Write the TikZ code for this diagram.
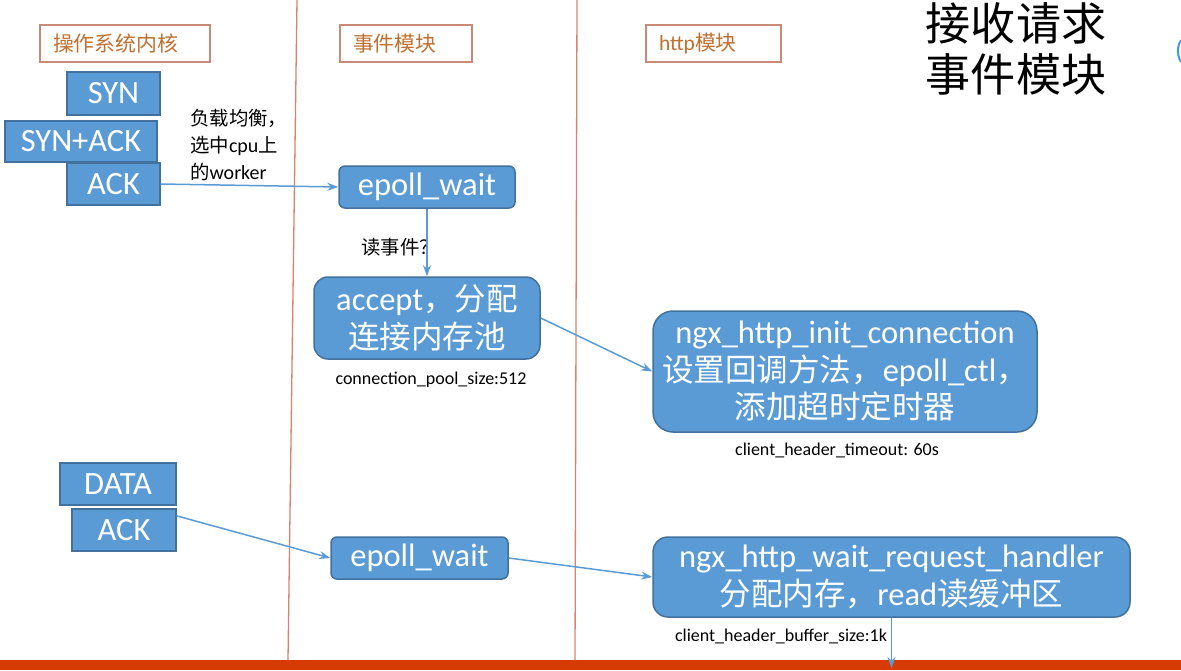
\documentclass[tikz,border=0pt]{standalone}
\usepackage{fontspec}
\setmainfont{Carlito}
\newfontfamily\cjk[Scale=0.97]{Noto Sans CJK SC}
\usetikzlibrary{arrows.meta}
\definecolor{boxblue}{HTML}{5B9BD5}
\definecolor{boxedge}{HTML}{41719C}
\definecolor{hdredge}{HTML}{C98A78}
\definecolor{hdrtext}{HTML}{C0702F}
\definecolor{vline}{HTML}{D9826E}
\definecolor{redbar}{HTML}{D63A05}
\definecolor{edgeblue}{HTML}{3A9BE8}
\tikzset{
  sqbox/.style={draw=boxedge, fill=boxblue, line width=1.5pt, text=white,
    font=\fontsize{32.5}{37.5}\selectfont, inner sep=0pt, align=center},
  rbox/.style={sqbox, rounded corners=#1},
  hdrbox/.style={draw=hdredge, line width=1.5pt, text=hdrtext,
    font=\fontsize{21.5}{24}\selectfont, inner xsep=13pt, inner ysep=0pt,
    minimum height=37pt, align=left},
  conn/.style={draw=boxblue, line width=1.5pt, -{Stealth[length=11pt,width=8pt]}},
  smalllabel/.style={font=\fontsize{18}{20}\selectfont, inner sep=0pt},
  midlabel/.style={font=\fontsize{20}{27}\selectfont, inner sep=0pt, align=left},
  divider/.style={draw=vline, line width=1.3pt}
}
\begin{document}
\begin{tikzpicture}[x=1pt,y=-1pt]
\useasboundingbox (0,0) rectangle (1181,670);
\fill[white] (0,0) rectangle (1181,670);

% dividers
\draw[divider] (297,0) -- (288,660);
\draw[divider] (577,0) -- (575,660);

% headers
\node[hdrbox, text width=144pt] (h1) at (125,43.5) {{\cjk 操作系统内核}};
\node[hdrbox, text width=106pt] (h2) at (406,43.5) {{\cjk 事件模块}};
\node[hdrbox, text width=109pt] (h3) at (713.5,43.5) {http{\cjk 模块}};

% title
\node[font=\fontsize{46.5}{50.5}\selectfont, inner sep=0pt, align=left] (title) at (1016,49) {{\cjk 接收请求}\\{\cjk 事件模块}};

% partial shape at right edge
\draw[edgeblue, line width=2pt] (1181,40) to[bend right=30] (1181,62);

% kernel packets
\node[sqbox, minimum width=93pt, minimum height=43pt] (syn) at (113.5,93.5) {SYN};
\node[sqbox, minimum width=152pt, minimum height=41pt] (synack) at (81,141.5) {SYN+ACK};
\node[sqbox, minimum width=93pt, minimum height=42pt] (ack) at (113.5,184) {ACK};
\node[sqbox, minimum width=116pt, minimum height=42pt] (data) at (118,484) {DATA};
\node[sqbox, minimum width=104pt, minimum height=42pt] (ack2) at (124,530) {ACK};

% event module
\node[rbox=6pt, minimum width=176pt, minimum height=42pt] (ew1) at (427,187) {epoll\_wait};
\node[rbox=14pt, minimum width=226pt, minimum height=82pt] (acc) at (427,318) {accept{\cjk ，分配}\\{\cjk 连接内存池}};
\node[rbox=6pt, minimum width=177pt, minimum height=42pt] (ew2) at (419.5,558) {epoll\_wait};

% http module
\node[rbox=20pt, minimum width=384pt, minimum height=121pt] (init) at (845,371.5) {ngx\_http\_init\_connection\\{\cjk 设置回调方法，}epoll\_ctl{\cjk ，}\\{\cjk 添加超时定时器}};
\node[rbox=15pt, minimum width=477pt, minimum height=80pt] (wait) at (891.5,577) {ngx\_http\_wait\_request\_handler\\{\cjk 分配内存，}read{\cjk 读缓冲区}};

% labels
\node[midlabel, anchor=north west] (lb) at (190,109) {{\cjk 负载均衡，}\\{\cjk 选中}cpu{\cjk 上}\\{\cjk 的}worker};
\node[midlabel] (rd) at (400,247) {{\cjk 读事件？}};
\node[smalllabel] (cps) at (431,380) {connection\_pool\_size:512};
\node[smalllabel] (cht) at (837,450) {client\_header\_timeout: 60s};
\node[smalllabel] (chb) at (781,636) {client\_header\_buffer\_size:1k};

% bottom bar
\fill[redbar] (0,660) rectangle (1181,670);

% connectors
\coordinate (bottomend) at (891.5,668);
\draw[conn] (ack.east) -- (ew1.west);
\draw[conn] (ew1.south) -- (acc.north);
\draw[conn] (acc.east) -- (init.west);
\draw[conn] (ack2.15) -- (ew2.west);
\draw[conn] (ew2.east) -- (wait.west);
\draw[conn] (wait.south) -- (bottomend);
\end{tikzpicture}
\end{document}
